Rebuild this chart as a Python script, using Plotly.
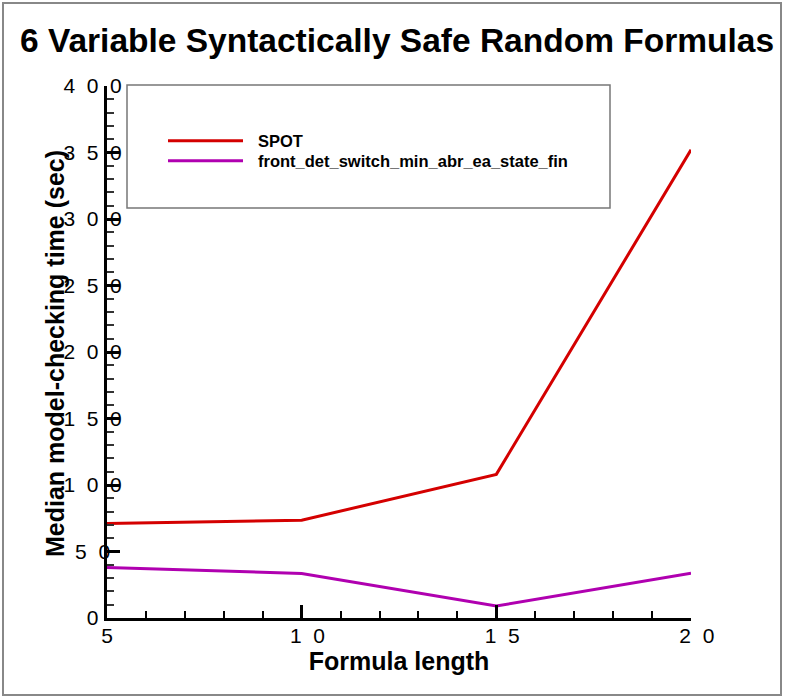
import plotly.graph_objects as go

# ---- data ----
formula_length = [5, 10, 15, 20]
spot_time = [71, 73.5, 108, 352]
fdsm_time = [38, 33.5, 9, 33.7]
series_names = ["SPOT", "front_det_switch_min_abr_ea_state_fin"]
series_colors = ["#d40000", "#b000b0"]
y_tick_values = [0, 50, 100, 150, 200, 250, 300, 350, 400]
x_tick_values = [5, 10, 15, 20]

NB = "\u00a0"
def spaced(v):
    return (NB * 2).join(str(v))

y_tick_text = [spaced(v) + NB * (2 * (3 - len(str(v)))) for v in y_tick_values]
x_tick_text = [(NB * 2 if len(str(v)) > 1 else "") + spaced(v) for v in x_tick_values]

W, H = 785, 697
L, R, T, B = 107, 94, 86, 79
pw, ph = W - L - R, H - T - B


def px(x):
    return (x - L) / pw


def py(y):
    return 1 - (y - T) / ph


FONT = "Liberation Sans, Arial, Helvetica, sans-serif"

fig = go.Figure()
for name, col, ys in zip(series_names, series_colors, [spot_time, fdsm_time]):
    fig.add_trace(go.Scatter(x=formula_length, y=ys, mode="lines", name=name,
                             line=dict(color=col, width=3), showlegend=False))

axis_common = dict(
    showline=True, linecolor="black", linewidth=3, mirror=False,
    showgrid=False, zeroline=False,
    ticks="inside", ticklen=13, tickwidth=3, tickcolor="black",
    tickfont=dict(family=FONT, size=21, color="black"),
)

fig.update_xaxes(
    **axis_common, range=[5, 20], tickvals=x_tick_values, ticktext=x_tick_text,
    ticklabelstandoff=-3,
    minor=dict(dtick=1, ticks="inside", ticklen=7, tickwidth=1.5, tickcolor="black"),
    title=dict(text="Formula length", font=dict(family=FONT, size=25, weight="bold", color="black"), standoff=0),
)
fig.update_yaxes(
    **axis_common, range=[0, 400], tickvals=y_tick_values, ticktext=y_tick_text,
    ticklabelstandoff=-22,
    minor=dict(dtick=10, ticks="inside", ticklen=7, tickwidth=1.5, tickcolor="#333333"),
)

shapes = []
# outer frame
shapes.append(dict(type="rect", xref="paper", yref="paper", x0=px(3), x1=px(781), y0=py(695), y1=py(3),
                   line=dict(color="#888888", width=2), layer="below"))
# legend box
shapes.append(dict(type="rect", xref="paper", yref="paper", x0=px(127), x1=px(610), y0=py(208), y1=py(85),
                   line=dict(color="#777777", width=1.5), fillcolor="white"))
annotations = []
for i, (name, col) in enumerate(zip(series_names, series_colors)):
    yy = 140.7 + 20 * i
    shapes.append(dict(type="line", xref="paper", yref="paper", x0=px(168), x1=px(243), y0=py(yy), y1=py(yy),
                       line=dict(color=col, width=3)))
    annotations.append(dict(xref="paper", yref="paper", x=px(256), y=py(yy), text=name, showarrow=False,
                            xanchor="left", yanchor="middle",
                            font=dict(family=FONT, size=16.5, weight="bold", color="black")))

# y-axis title
annotations.append(dict(xref="paper", yref="paper", x=px(55), y=py(354),
                        text="Median model-checking time (sec)", textangle=-90, showarrow=False,
                        xanchor="center", yanchor="middle",
                        font=dict(family=FONT, size=25, weight="bold", color="black")))

fig.update_layout(
    width=W, height=H,
    margin=dict(l=L, r=R, t=T, b=B, autoexpand=False),
    paper_bgcolor="white", plot_bgcolor="white",
    title=dict(text="6 Variable Syntactically Safe Random Formulas", xref="container", yref="container",
               x=397 / W, y=1 - 40 / H, xanchor="center", yanchor="middle",
               font=dict(family=FONT, size=33.5, weight="bold", color="black")),
    shapes=shapes, annotations=annotations,
    font=dict(family=FONT, color="black"),
)

fig.write_html("out.html", config={"displayModeBar": False},
               post_script="document.body.style.margin='0';document.body.style.overflow='hidden';")
